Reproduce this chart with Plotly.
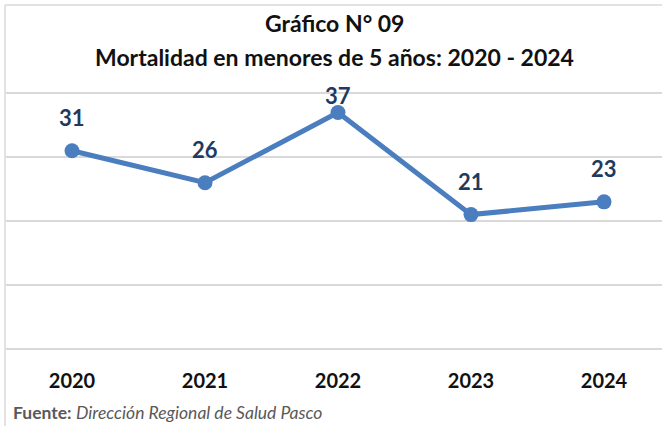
import plotly.graph_objects as go

years = ["2020", "2021", "2022", "2023", "2024"]
deaths = [31, 26, 37, 21, 23]
title_line1 = "Gráfico N° 09"
title_line2 = "Mortalidad en menores de 5 años: 2020 - 2024"
source_label = "Fuente:"
source_text = "Dirección Regional de Salud Pasco"

W, H = 662, 426
L, R, T, B = 6, 0, 92, 76
pw, ph = W - L - R, H - T - B

def px_x(p):
    return (p - L) / pw

def px_y(p):
    return (H - B - p) / ph

xs = list(range(len(years)))
line_color = "#4A7EBF"
label_color = "#1F3A60"
font = "Lato, 'Open Sans', sans-serif"

fig = go.Figure()
fig.add_trace(go.Scatter(
    x=xs, y=deaths, mode="lines+markers",
    line=dict(color=line_color, width=5),
    marker=dict(color=line_color, size=15),
    hoverinfo="skip", showlegend=False,
))

# labels sit ~33px above each point, but never higher than just below the title
max_label_top_px = 95
label_y_scale = ph / 40.4  # px per unit
annotations = []
for xi, v in zip(xs, deaths):
    point_px = H - B - (v + 0.2) * label_y_scale
    shift = min(33, point_px - max_label_top_px)
    annotations.append(dict(
        x=xi, y=v, xref="x", yref="y", text=f"<b>{v}</b>", showarrow=False,
        yshift=shift, font=dict(size=22, color=label_color, family=font),
    ))

annotations += [
    dict(x=0.5, y=px_y(23), xref="paper", yref="paper", text=f"<b>{title_line1}</b>",
         showarrow=False, xanchor="center", yanchor="middle",
         font=dict(size=23, color="#111111", family=font)),
    dict(x=0.5, y=px_y(57), xref="paper", yref="paper", text=f"<b>{title_line2}</b>",
         showarrow=False, xanchor="center", yanchor="middle",
         font=dict(size=23, color="#111111", family=font)),
    dict(x=px_x(11), y=px_y(412), xref="paper", yref="paper",
         text=f"<b>{source_label}</b> <i>{source_text}</i>",
         showarrow=False, xanchor="left", yanchor="middle",
         font=dict(size=17.5, color="#595959", family=font)),
]

shapes = [
    dict(type="line", xref="paper", yref="paper", x0=px_x(5), x1=px_x(5),
         y0=px_y(5), y1=px_y(430), line=dict(color="#D9D9D9", width=1.5)),
    dict(type="line", xref="paper", yref="paper", x0=px_x(5), x1=px_x(665),
         y0=px_y(5), y1=px_y(5), line=dict(color="#D9D9D9", width=1.5)),
]

x0 = 72
step = 133
fig.update_layout(
    width=W, height=H,
    margin=dict(l=L, r=R, t=T, b=B, pad=0),
    paper_bgcolor="white", plot_bgcolor="white",
    annotations=annotations, shapes=shapes,
    xaxis=dict(
        range=[(L - x0) / step, (W - R - x0) / step],
        tickmode="array", tickvals=xs, ticktext=[f"<b>{y}</b>" for y in years],
        tickfont=dict(size=20, color="#111111", family=font),
        ticks="outside", ticklen=13, tickcolor="rgba(0,0,0,0)",
        showgrid=False, zeroline=False, showline=False, fixedrange=True,
    ),
    yaxis=dict(
        range=[-0.2, 40.2], tickvals=[0, 10, 20, 30, 40],
        showticklabels=False, showgrid=True, gridcolor="#D9D9D9", gridwidth=1.5,
        zeroline=False, showline=False, fixedrange=True,
    ),
)

fig.write_html(
    "out.html",
    config={"displayModeBar": False},
    post_script="document.body.style.margin='0';document.body.style.padding='0';",
)
